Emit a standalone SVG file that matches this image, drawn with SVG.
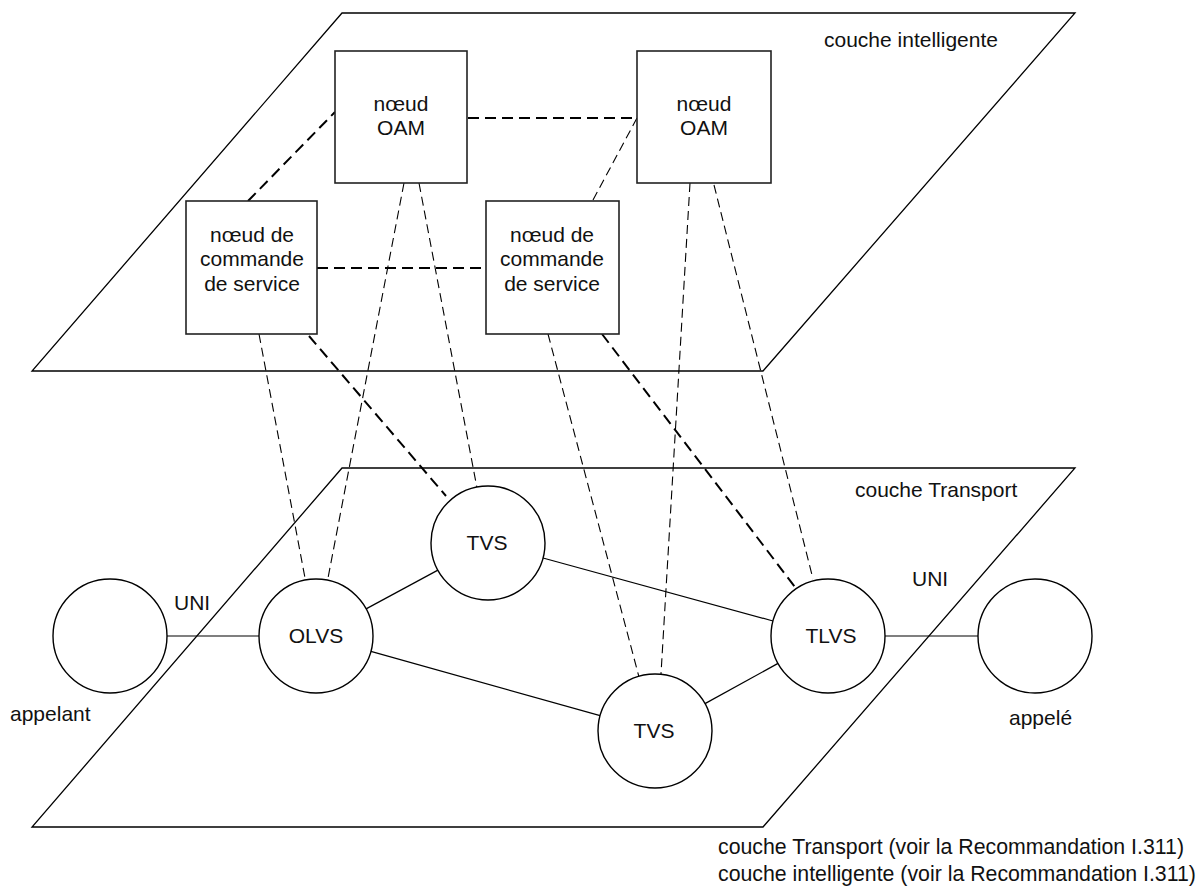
<svg xmlns="http://www.w3.org/2000/svg" width="1196" height="890" viewBox="0 0 1196 890">
<style>
text{font-family:"Liberation Sans",Arial,Helvetica,sans-serif;font-size:21px;fill:#111}
.mid{text-anchor:middle}
.cap{font-size:21.3px}
.layer{fill:none;stroke:#000;stroke-width:1.3}
.box{fill:#fff;stroke:#222;stroke-width:1.6}
.node{fill:#fff;stroke:#000;stroke-width:1.4}
.link{stroke:#000;stroke-width:1.2;fill:none}
.dthick{stroke:#000;stroke-width:2;stroke-dasharray:11 6;fill:none}
.dthin{stroke:#000;stroke-width:1.1;stroke-dasharray:9 5;fill:none}
</style>
<rect width="1196" height="890" fill="#fff"/>
<g id="layer-intelligente">
<polygon class="layer" points="342,13 1075,13 763,371 32,371"/>
<text x="824" y="47">couche intelligente</text>
</g>
<g id="layer-transport">
<polygon class="layer" points="342,468 1075,468 763,827 32,827"/>
<text x="855" y="497">couche Transport</text>
</g>
<g id="connectors">
<line class="dthick" x1="468" y1="118" x2="637" y2="118"/>
<line class="dthick" x1="317" y1="268" x2="486" y2="268"/>
<line class="dthick" x1="248" y1="201" x2="335" y2="112"/>
<line class="dthick" x1="309" y1="336" x2="446" y2="496"/>
<line class="dthick" x1="602" y1="334" x2="795" y2="587"/>
<line class="dthin" x1="593" y1="200" x2="637" y2="118"/>
<line class="dthin" x1="259" y1="334" x2="305" y2="578"/>
<line class="dthin" x1="404" y1="183" x2="328" y2="578"/>
<line class="dthin" x1="419" y1="183" x2="477" y2="488"/>
<line class="dthin" x1="548" y1="334" x2="639" y2="677"/>
<line class="dthin" x1="690" y1="183" x2="661" y2="674"/>
<line class="dthin" x1="714" y1="185" x2="813" y2="579"/>
<line class="link" x1="167" y1="636" x2="259" y2="636"/>
<line class="link" x1="885" y1="636" x2="978" y2="636"/>
<line class="link" x1="366.1" y1="608.9" x2="437.9" y2="570.1"/>
<line class="link" x1="543" y1="558" x2="773" y2="621"/>
<line class="link" x1="370.9" y1="651.4" x2="600.1" y2="715.6"/>
<line class="link" x1="705" y1="703.6" x2="778" y2="663.4"/>
</g>
<g id="oam1">
<rect class="box" x="335" y="51" width="132" height="132"/>
<text class="mid" x="401" y="111">nœud</text>
<text class="mid" x="401" y="135">OAM</text>
</g>
<g id="oam2">
<rect class="box" x="637" y="51" width="134" height="132"/>
<text class="mid" x="704" y="111">nœud</text>
<text class="mid" x="704" y="135">OAM</text>
</g>
<g id="scn1">
<rect class="box" x="186" y="201" width="131" height="133"/>
<text class="mid" x="252" y="242">nœud de</text>
<text class="mid" x="252" y="266">commande</text>
<text class="mid" x="252" y="291">de service</text>
</g>
<g id="scn2">
<rect class="box" x="486" y="201" width="133" height="133"/>
<text class="mid" x="552" y="242">nœud de</text>
<text class="mid" x="552" y="266">commande</text>
<text class="mid" x="552" y="291">de service</text>
</g>
<g id="appelant">
<circle class="node" cx="110" cy="636" r="57"/>
<text x="10" y="721">appelant</text>
</g>
<g id="olvs">
<circle class="node" cx="316" cy="636" r="57"/>
<text class="mid" x="316" y="643">OLVS</text>
</g>
<g id="tvs1">
<circle class="node" cx="488" cy="543" r="57"/>
<text class="mid" x="487" y="550">TVS</text>
</g>
<g id="tvs2">
<circle class="node" cx="655" cy="731" r="57"/>
<text class="mid" x="654" y="738">TVS</text>
</g>
<g id="tlvs">
<circle class="node" cx="828" cy="636" r="57"/>
<text class="mid" x="831" y="643">TLVS</text>
</g>
<g id="appele">
<circle class="node" cx="1035" cy="636" r="57"/>
<text x="1009" y="725">appelé</text>
</g>
<g id="labels">
<text x="174" y="610">UNI</text>
<text x="912" y="586">UNI</text>
<text class="cap" x="718" y="854">couche Transport (voir la Recommandation I.311)</text>
<text class="cap" x="718" y="881">couche intelligente (voir la Recommandation I.311)</text>
</g>
</svg>
